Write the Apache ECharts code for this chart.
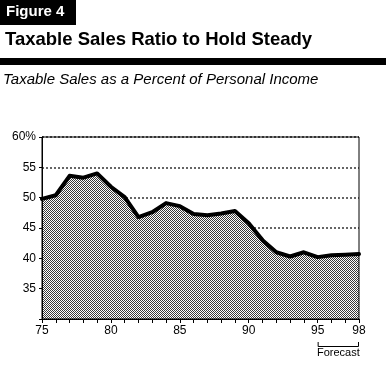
<!DOCTYPE html>
<html>
<head>
<meta charset="utf-8">
<script src="https://cdn.jsdelivr.net/npm/echarts@6/dist/echarts.min.js"></script>
<style>
html,body{margin:0;padding:0;background:#fff;}
#c{width:386px;height:370px;}
</style>
</head>
<body>
<div id="c"></div>
<script>
// Data
var years = [75,76,77,78,79,80,81,82,83,84,85,86,87,88,89,90,91,92,93,94,95,96,97,98];
var ratio = [49.8,50.4,53.6,53.3,54.0,51.8,50.1,46.8,47.6,49.1,48.6,47.3,47.1,47.4,47.8,45.8,43.0,41.0,40.3,41.0,40.2,40.5,40.6,40.7];
var xTickLabels = ['75','80','85','90','95','98'];
var yTickLabels = {30:'', 35:'35', 40:'40', 45:'45', 50:'50', 55:'55', 60:'60%'};
var forecastRange = [95, 98];
var forecastLabel = 'Forecast';
var figureLabel = 'Figure 4';
var titleText = 'Taxable Sales Ratio to Hold Steady';
var subtitleText = 'Taxable Sales as a Percent of Personal Income';

var FONT = '"Liberation Sans", Arial, sans-serif';

// checker pattern
var pc = document.createElement('canvas');
pc.width = 2; pc.height = 2;
var pctx = pc.getContext('2d');
pctx.fillStyle = '#fff'; pctx.fillRect(0,0,2,2);
pctx.fillStyle = '#3a3a3a'; pctx.fillRect(0,0,1,1); pctx.fillRect(1,1,1,1);

var chart = echarts.init(document.getElementById('c'), null, {renderer:'canvas'});
var seriesData = years.map(function(y,i){ return [y, ratio[i]]; });

var option = {
  animation: false,
  backgroundColor: '#fff',
  grid: {left: 42, right: 27, top: 137, bottom: 51, show: true, z: 3,
         borderColor: '#000', borderWidth: 1, backgroundColor: 'transparent'},
  xAxis: {
    type: 'value', min: 75, max: 98, interval: 1, z: 3,
    axisLine: {show: true, onZero: false, lineStyle: {color: '#000', width: 1}},
    axisTick: {show: true, length: 4, lineStyle: {color: '#000'}},
    splitLine: {show: false},
    axisLabel: {color: '#000', fontFamily: FONT, fontSize: 12, margin: 6,
      formatter: function(v){ var s = String(v); return xTickLabels.indexOf(s) >= 0 ? s : ''; }}
  },
  yAxis: [{
    type: 'value', min: 30, max: 60, interval: 5, z: 3,
    axisLine: {show: true, lineStyle: {color: '#000'}},
    axisTick: {show: true, length: 3, lineStyle: {color: '#000'}},
    splitLine: {show: false},
    axisLabel: {color: '#000', fontFamily: FONT, fontSize: 12, margin: 6,
      formatter: function(v){ return yTickLabels[v] !== undefined ? yTickLabels[v] : String(v); }}
  },{
    type: 'value', min: 30, max: 60, interval: 5, z: 0,
    axisLine: {show: false}, axisTick: {show: false}, axisLabel: {show: false},
    splitLine: {show: true, lineStyle: {color: '#333', width: 1.5, type: [2,2]}}
  }],
  series: [{
    type: 'line',
    data: seriesData,
    yAxisIndex: 0,
    symbol: 'none',
    smooth: false,
    z: 2,
    lineStyle: {color: '#000', width: 4, join: 'round', cap: 'round'},
    areaStyle: {color: {image: pc, repeat: 'repeat'}, opacity: 1, origin: 'start'}
  }]
};
chart.setOption(option);

// header + forecast bracket
var p95 = chart.convertToPixel({xAxisIndex: 0, yAxisIndex: 0}, [forecastRange[0], 30]);
var p98 = chart.convertToPixel({xAxisIndex: 0, yAxisIndex: 0}, [forecastRange[1], 30]);
var by = p95[1] + 27;
chart.setOption({
  graphic: [
    {type: 'rect', left: 0, top: 0, shape: {width: 76, height: 25}, style: {fill: '#000'}},
    {type: 'text', left: 6, top: 4, style: {text: figureLabel, fill: '#fff', font: 'bold 15px ' + FONT}},
    {type: 'text', left: 5, top: 30, style: {text: titleText, fill: '#000', font: 'bold 18.5px ' + FONT}},
    {type: 'rect', left: 0, top: 58, shape: {width: 386, height: 7}, style: {fill: '#000'}},
    {type: 'text', left: 3, top: 72, style: {text: subtitleText, fill: '#000', font: 'italic 15px ' + FONT}},
    {type: 'polyline', shape: {points: [[p95[0]+0.5, by-4],[p95[0]+0.5, by+0.5],[p98[0]-0.5, by+0.5],[p98[0]-0.5, by-4]]},
      style: {stroke: '#000', lineWidth: 1, fill: null}},
    {type: 'text', x: (p95[0]+p98[0])/2, y: by + 1, style: {text: forecastLabel, fill: '#000', font: '11px ' + FONT, align: 'center', verticalAlign: 'top'}}
  ]
});
</script>
</body>
</html>
